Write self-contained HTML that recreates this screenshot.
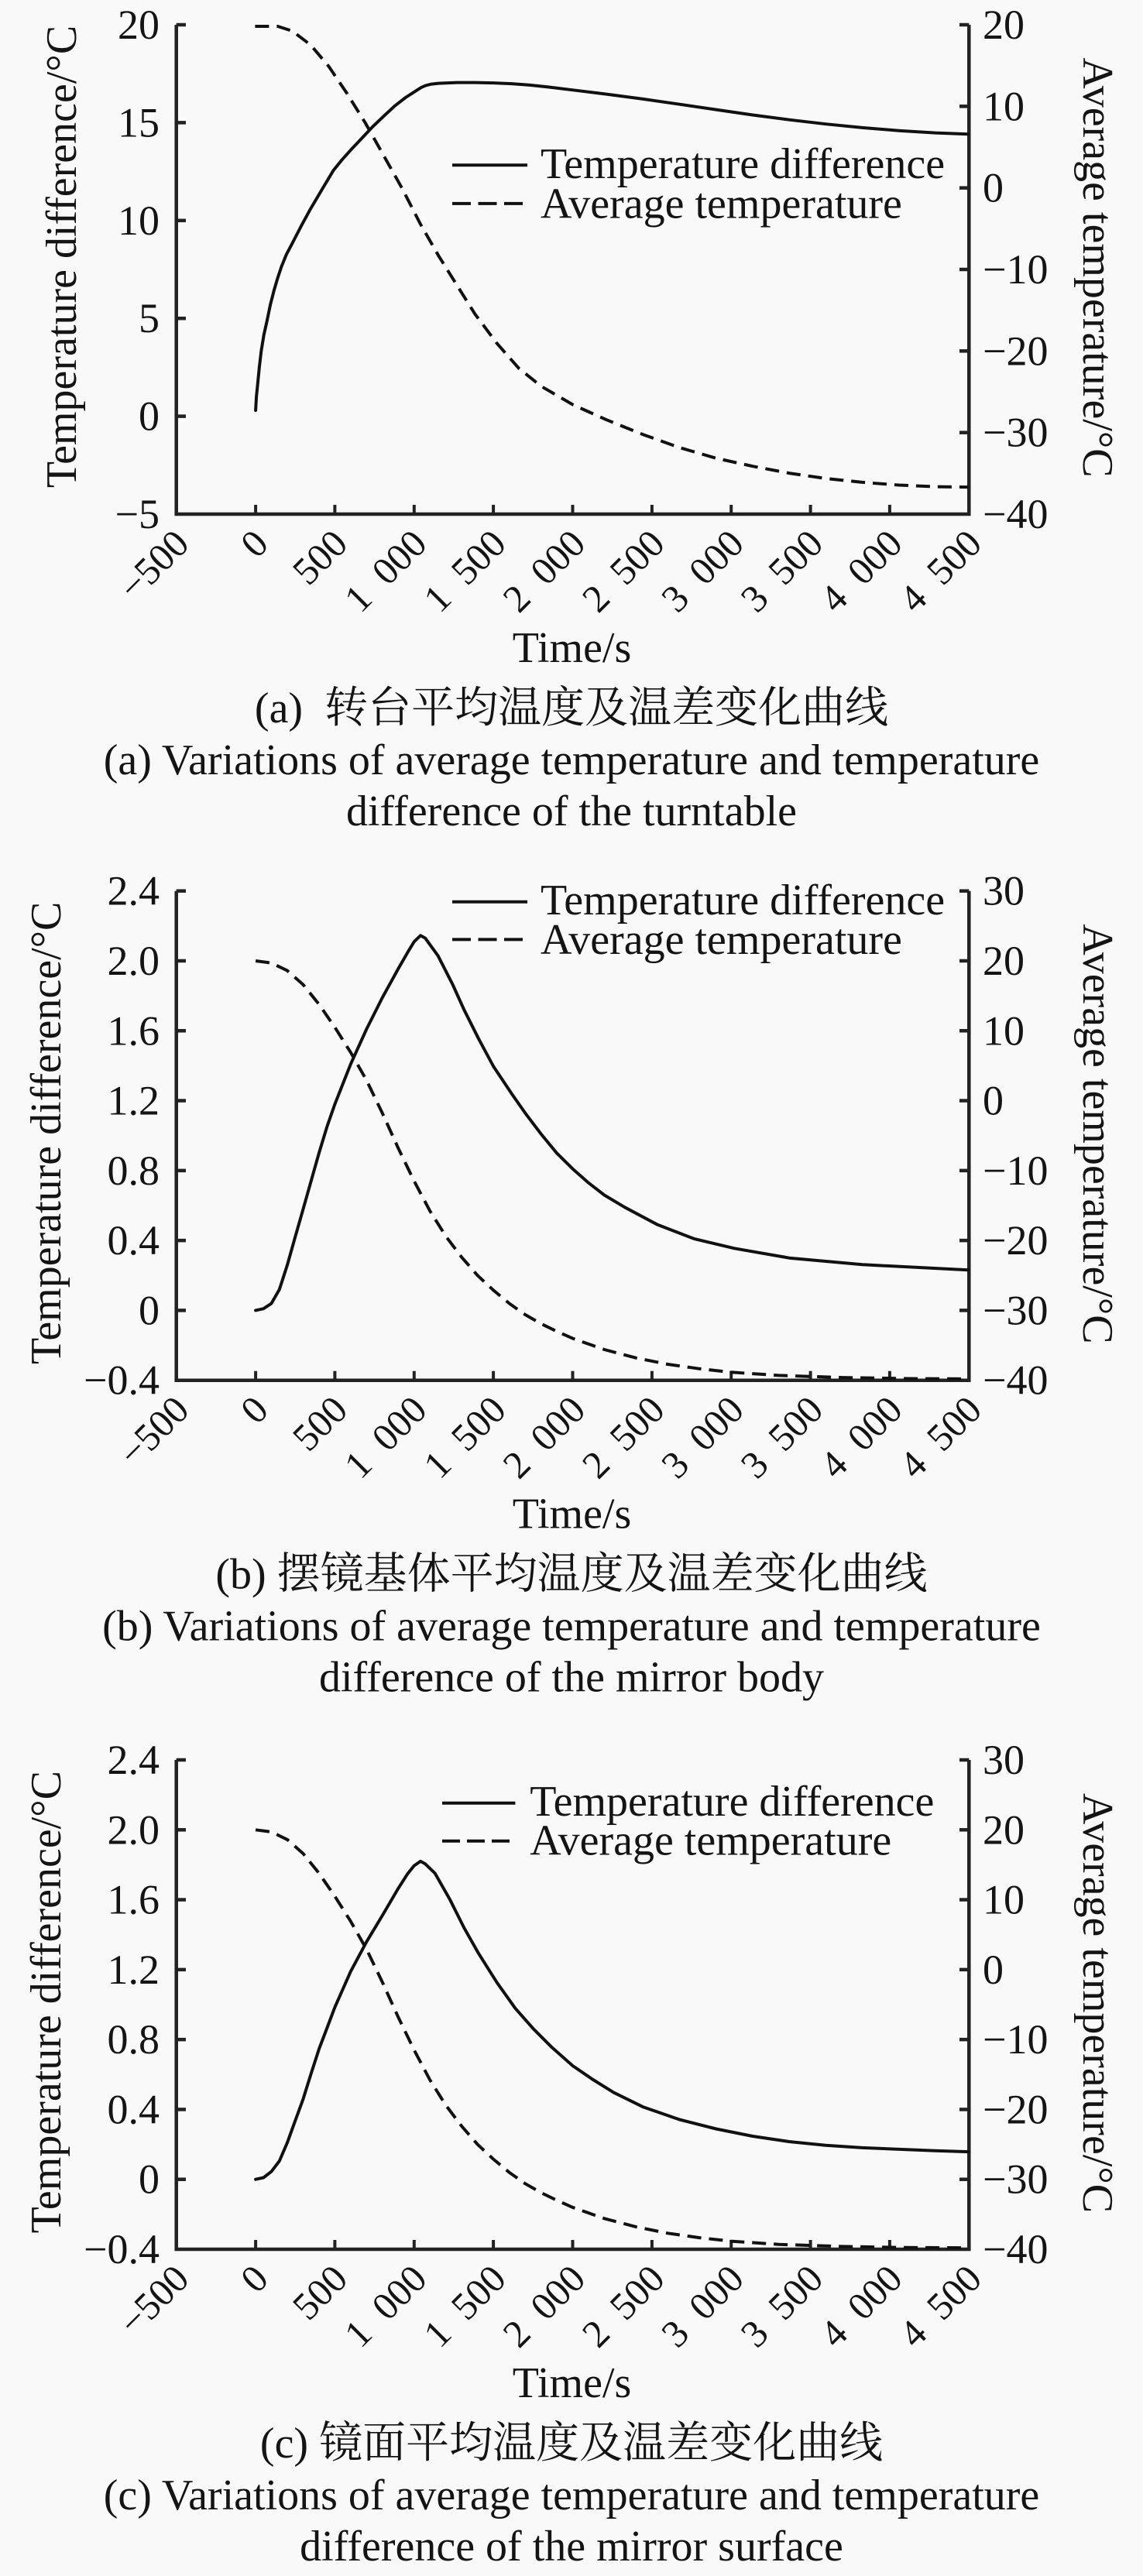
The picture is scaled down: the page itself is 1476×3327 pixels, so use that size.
<!DOCTYPE html>
<html>
<head>
<meta charset="utf-8">
<style>
  html,body{margin:0;padding:0;background:#f9f9f9;}
  svg{display:block;}
  text{font-family:"Liberation Serif","Noto Serif CJK SC",serif;fill:#141414;}
  .tk{font-size:54px;}
  .xt{font-size:50px;}
  .ti{font-size:56px;}
  .cj{font-size:56px;}
</style>
</head>
<body>
<svg width="1476" height="3327" viewBox="0 0 1476 3327" xmlns="http://www.w3.org/2000/svg">
<rect x="0" y="0" width="1476" height="3327" fill="#f9f9f9"/>

<!-- ================= CHART A ================= -->
<g transform="translate(0,32)">
  <path d="M227.7,0 V632 H1251.3 V0" fill="none" stroke="#222" stroke-width="4.5"/>
  <g stroke="#222" stroke-width="4.5">
    <line x1="227.7" y1="0" x2="240" y2="0"/>
    <line x1="227.7" y1="126.4" x2="240" y2="126.4"/>
    <line x1="227.7" y1="252.8" x2="240" y2="252.8"/>
    <line x1="227.7" y1="379.2" x2="240" y2="379.2"/>
    <line x1="227.7" y1="505.6" x2="240" y2="505.6"/>
    <line x1="1251.3" y1="0" x2="1239" y2="0"/>
    <line x1="1251.3" y1="105.33" x2="1239" y2="105.33"/>
    <line x1="1251.3" y1="210.67" x2="1239" y2="210.67"/>
    <line x1="1251.3" y1="316" x2="1239" y2="316"/>
    <line x1="1251.3" y1="421.33" x2="1239" y2="421.33"/>
    <line x1="1251.3" y1="526.67" x2="1239" y2="526.67"/>
  </g>
  <g stroke="#222" stroke-width="4">
    <line x1="330.1" y1="632" x2="330.1" y2="620"/>
    <line x1="432.4" y1="632" x2="432.4" y2="620"/>
    <line x1="534.8" y1="632" x2="534.8" y2="620"/>
    <line x1="637.1" y1="632" x2="637.1" y2="620"/>
    <line x1="739.5" y1="632" x2="739.5" y2="620"/>
    <line x1="841.9" y1="632" x2="841.9" y2="620"/>
    <line x1="944.2" y1="632" x2="944.2" y2="620"/>
    <line x1="1046.6" y1="632" x2="1046.6" y2="620"/>
    <line x1="1148.9" y1="632" x2="1148.9" y2="620"/>
  </g>
  <g class="tk" text-anchor="end">
    <text x="206" y="18">20</text>
    <text x="206" y="144.4">15</text>
    <text x="206" y="270.8">10</text>
    <text x="206" y="397.2">5</text>
    <text x="206" y="523.6">0</text>
    <text x="206" y="650">−5</text>
  </g>
  <g class="tk" text-anchor="start">
    <text x="1269" y="18">20</text>
    <text x="1269" y="123.33">10</text>
    <text x="1269" y="228.67">0</text>
    <text x="1269" y="334">−10</text>
    <text x="1269" y="439.33">−20</text>
    <text x="1269" y="544.67">−30</text>
    <text x="1269" y="650">−40</text>
  </g>
  <g class="xt" text-anchor="end">
    <text transform="translate(246.7,673) rotate(-45)">−500</text>
    <text transform="translate(349.1,673) rotate(-45)">0</text>
    <text transform="translate(451.4,673) rotate(-45)">500</text>
    <text transform="translate(553.8,673) rotate(-45)">1&#160;&#160;000</text>
    <text transform="translate(656.1,673) rotate(-45)">1&#160;&#160;500</text>
    <text transform="translate(758.5,673) rotate(-45)">2&#160;&#160;000</text>
    <text transform="translate(860.9,673) rotate(-45)">2&#160;&#160;500</text>
    <text transform="translate(963.2,673) rotate(-45)">3&#160;&#160;000</text>
    <text transform="translate(1065.6,673) rotate(-45)">3&#160;&#160;500</text>
    <text transform="translate(1167.9,673) rotate(-45)">4&#160;&#160;000</text>
    <text transform="translate(1270.3,673) rotate(-45)">4&#160;&#160;500</text>
  </g>
  <text class="ti" text-anchor="middle" transform="translate(98,299.5) rotate(-90)">Temperature difference/°C</text>
  <text class="ti" text-anchor="middle" transform="translate(1399,313.5) rotate(90)">Average temperature/°C</text>
  <line x1="584" y1="181.3" x2="681" y2="181.3" stroke="#111" stroke-width="4"/>
  <line x1="584" y1="230.9" x2="681" y2="230.9" stroke="#111" stroke-width="4" stroke-dasharray="24 9.5"/>
  <text class="ti" x="698" y="198">Temperature difference</text>
  <text class="ti" x="698" y="249.5">Average temperature</text>
  <text class="ti" x="738.5" y="823" text-anchor="middle">Time/s</text>
  <text class="cj" x="738" y="901" text-anchor="middle">(a)&#160; 转台平均温度及温差变化曲线</text>
  <text class="ti" x="738" y="968" text-anchor="middle">(a) Variations of average temperature and temperature</text>
  <text class="ti" x="738" y="1034" text-anchor="middle">difference of the turntable</text>
</g>
<polyline fill="none" stroke="#111" stroke-width="4" stroke-linejoin="round" stroke-linecap="round"
 points="330.1,530 331.1,512.3 332.8,495.4 335,473.1 337.4,452.9 340.7,432.7 344.6,415.3 349.1,393.5 354,374.5 358.7,358.6 363.4,344.5 370,328.3 377.6,313.9 389.4,291.1 401.1,269.6 416,244.4 430.4,220.3 441.6,206.4 452.9,193.8 467.2,178.6 481.4,163.5 495.5,150.1 509.6,136.9 523.7,126 538.1,116.7 544,112.9 549.7,110.4 557.3,108.6 566.3,107.6 590.1,106.6 613.6,106.6 637.1,107.1 660.7,108.1 684.2,109.9 707.9,112.4 740,116.3 783.2,121.6 830.4,127.9 877.6,134.7 924.8,141.6 972,148.5 1019.2,154.7 1066.3,160.2 1113.5,164.9 1160.7,168.7 1207.9,171.6 1250.4,173.2"/>
<polyline fill="none" stroke="#111" stroke-width="4" stroke-dasharray="18 10" stroke-linejoin="round"
 points="329.4,34 358.7,34 377.5,40.1 401.1,58 424.7,86 448.3,121 471.9,159 495.5,201 519.1,243 542.7,289 566.3,330.3 589.9,368.1 613.5,405.8 641.8,443.6 670.1,475.8 698.4,498.6 740,522.8 783.2,542.2 830.4,561.2 877.6,578.1 924.8,591.8 972,602.2 1019.2,611.1 1066.3,618 1113.5,622.9 1160.7,626.5 1207.9,628.6 1250.4,629.1"/>

<!-- ================= CHART B ================= -->
<g transform="translate(0,1150.7)">
  <path d="M227.7,0 V632 H1251.3 V0" fill="none" stroke="#222" stroke-width="4.5"/>
  <g stroke="#222" stroke-width="4.5">
    <line x1="227.7" y1="0" x2="240" y2="0"/>
    <line x1="227.7" y1="90.29" x2="240" y2="90.29"/>
    <line x1="227.7" y1="180.57" x2="240" y2="180.57"/>
    <line x1="227.7" y1="270.86" x2="240" y2="270.86"/>
    <line x1="227.7" y1="361.14" x2="240" y2="361.14"/>
    <line x1="227.7" y1="451.43" x2="240" y2="451.43"/>
    <line x1="227.7" y1="541.71" x2="240" y2="541.71"/>
    <line x1="1251.3" y1="0" x2="1239" y2="0"/>
    <line x1="1251.3" y1="90.29" x2="1239" y2="90.29"/>
    <line x1="1251.3" y1="180.57" x2="1239" y2="180.57"/>
    <line x1="1251.3" y1="270.86" x2="1239" y2="270.86"/>
    <line x1="1251.3" y1="361.14" x2="1239" y2="361.14"/>
    <line x1="1251.3" y1="451.43" x2="1239" y2="451.43"/>
    <line x1="1251.3" y1="541.71" x2="1239" y2="541.71"/>
  </g>
  <g stroke="#222" stroke-width="4">
    <line x1="330.1" y1="632" x2="330.1" y2="620"/>
    <line x1="432.4" y1="632" x2="432.4" y2="620"/>
    <line x1="534.8" y1="632" x2="534.8" y2="620"/>
    <line x1="637.1" y1="632" x2="637.1" y2="620"/>
    <line x1="739.5" y1="632" x2="739.5" y2="620"/>
    <line x1="841.9" y1="632" x2="841.9" y2="620"/>
    <line x1="944.2" y1="632" x2="944.2" y2="620"/>
    <line x1="1046.6" y1="632" x2="1046.6" y2="620"/>
    <line x1="1148.9" y1="632" x2="1148.9" y2="620"/>
  </g>
  <g class="tk" text-anchor="end">
    <text x="206" y="18">2.4</text>
    <text x="206" y="108.29">2.0</text>
    <text x="206" y="198.57">1.6</text>
    <text x="206" y="288.86">1.2</text>
    <text x="206" y="379.14">0.8</text>
    <text x="206" y="469.43">0.4</text>
    <text x="206" y="559.71">0</text>
    <text x="206" y="650">−0.4</text>
  </g>
  <g class="tk" text-anchor="start">
    <text x="1269" y="18">30</text>
    <text x="1269" y="108.29">20</text>
    <text x="1269" y="198.57">10</text>
    <text x="1269" y="288.86">0</text>
    <text x="1269" y="379.14">−10</text>
    <text x="1269" y="469.43">−20</text>
    <text x="1269" y="559.71">−30</text>
    <text x="1269" y="650">−40</text>
  </g>
  <g class="xt" text-anchor="end">
    <text transform="translate(246.7,673) rotate(-45)">−500</text>
    <text transform="translate(349.1,673) rotate(-45)">0</text>
    <text transform="translate(451.4,673) rotate(-45)">500</text>
    <text transform="translate(553.8,673) rotate(-45)">1&#160;&#160;000</text>
    <text transform="translate(656.1,673) rotate(-45)">1&#160;&#160;500</text>
    <text transform="translate(758.5,673) rotate(-45)">2&#160;&#160;000</text>
    <text transform="translate(860.9,673) rotate(-45)">2&#160;&#160;500</text>
    <text transform="translate(963.2,673) rotate(-45)">3&#160;&#160;000</text>
    <text transform="translate(1065.6,673) rotate(-45)">3&#160;&#160;500</text>
    <text transform="translate(1167.9,673) rotate(-45)">4&#160;&#160;000</text>
    <text transform="translate(1270.3,673) rotate(-45)">4&#160;&#160;500</text>
  </g>
  <text class="ti" text-anchor="middle" transform="translate(78,312.6) rotate(-90)">Temperature difference/°C</text>
  <text class="ti" text-anchor="middle" transform="translate(1399,313.8) rotate(90)">Average temperature/°C</text>
  <line x1="584" y1="14.1" x2="681" y2="14.1" stroke="#111" stroke-width="4"/>
  <line x1="584" y1="62.7" x2="681" y2="62.7" stroke="#111" stroke-width="4" stroke-dasharray="24 9.5"/>
  <text class="ti" x="698" y="30.5">Temperature difference</text>
  <text class="ti" x="698" y="81.5">Average temperature</text>
  <text class="ti" x="738.5" y="823" text-anchor="middle">Time/s</text>
  <text class="cj" x="738" y="901" text-anchor="middle">(b) 摆镜基体平均温度及温差变化曲线</text>
  <text class="ti" x="738" y="968" text-anchor="middle">(b) Variations of average temperature and temperature</text>
  <text class="ti" x="738" y="1034" text-anchor="middle">difference of the mirror body</text>
</g>
<polyline fill="none" stroke="#111" stroke-width="4" stroke-linejoin="round" stroke-linecap="round"
 points="330.1,1692.4 340.3,1690.2 350.5,1683.4 360.8,1665.4 371,1633.8 381.2,1597.6 391.5,1561.5 401.7,1525.4 411.9,1489.3 422.2,1455.4 432.4,1426.1 452.9,1374.2 473.4,1329 493.8,1288.4 514.3,1251.1 526.6,1229.7 534.8,1216.2 543,1208.3 549.1,1211.6 557.3,1222.9 565.5,1234.2 584.3,1271 599.3,1304.2 618.1,1341.7 637.1,1377.1 660.7,1412.5 678.1,1437.4 698.6,1464.5 719,1489.3 739.5,1509.6 760,1527.7 780.4,1543.5 806.9,1559.3 849.2,1581.8 896.3,1599.9 948.3,1612.3 1019.2,1624.7 1113.5,1633.3 1250.5,1640.3"/>
<polyline fill="none" stroke="#111" stroke-width="4" stroke-dasharray="18 10" stroke-linejoin="round"
 points="330.1,1241 350.5,1243.7 371,1253.6 391.5,1271.7 411.9,1297 432.4,1326.8 452.9,1359.3 473.4,1395.4 493.8,1437.8 514.3,1483 534.8,1525.4 555.3,1564.2 575.7,1596.7 596.2,1623.8 616.7,1647.3 637.1,1666.3 657.6,1683.4 678.1,1697.9 698.6,1709.6 719,1719.5 739.5,1728.6 780.4,1743 821.4,1753.8 862.3,1762 903.3,1767.8 944.2,1772.3 1005.6,1776.4 1087.5,1779.1 1169.4,1780.5 1251.3,1780.9"/>

<!-- ================= CHART C ================= -->
<g transform="translate(0,2273)">
  <path d="M227.7,0 V632 H1251.3 V0" fill="none" stroke="#222" stroke-width="4.5"/>
  <g stroke="#222" stroke-width="4.5">
    <line x1="227.7" y1="0" x2="240" y2="0"/>
    <line x1="227.7" y1="90.29" x2="240" y2="90.29"/>
    <line x1="227.7" y1="180.57" x2="240" y2="180.57"/>
    <line x1="227.7" y1="270.86" x2="240" y2="270.86"/>
    <line x1="227.7" y1="361.14" x2="240" y2="361.14"/>
    <line x1="227.7" y1="451.43" x2="240" y2="451.43"/>
    <line x1="227.7" y1="541.71" x2="240" y2="541.71"/>
    <line x1="1251.3" y1="0" x2="1239" y2="0"/>
    <line x1="1251.3" y1="90.29" x2="1239" y2="90.29"/>
    <line x1="1251.3" y1="180.57" x2="1239" y2="180.57"/>
    <line x1="1251.3" y1="270.86" x2="1239" y2="270.86"/>
    <line x1="1251.3" y1="361.14" x2="1239" y2="361.14"/>
    <line x1="1251.3" y1="451.43" x2="1239" y2="451.43"/>
    <line x1="1251.3" y1="541.71" x2="1239" y2="541.71"/>
  </g>
  <g stroke="#222" stroke-width="4">
    <line x1="330.1" y1="632" x2="330.1" y2="620"/>
    <line x1="432.4" y1="632" x2="432.4" y2="620"/>
    <line x1="534.8" y1="632" x2="534.8" y2="620"/>
    <line x1="637.1" y1="632" x2="637.1" y2="620"/>
    <line x1="739.5" y1="632" x2="739.5" y2="620"/>
    <line x1="841.9" y1="632" x2="841.9" y2="620"/>
    <line x1="944.2" y1="632" x2="944.2" y2="620"/>
    <line x1="1046.6" y1="632" x2="1046.6" y2="620"/>
    <line x1="1148.9" y1="632" x2="1148.9" y2="620"/>
  </g>
  <g class="tk" text-anchor="end">
    <text x="206" y="18">2.4</text>
    <text x="206" y="108.29">2.0</text>
    <text x="206" y="198.57">1.6</text>
    <text x="206" y="288.86">1.2</text>
    <text x="206" y="379.14">0.8</text>
    <text x="206" y="469.43">0.4</text>
    <text x="206" y="559.71">0</text>
    <text x="206" y="650">−0.4</text>
  </g>
  <g class="tk" text-anchor="start">
    <text x="1269" y="18">30</text>
    <text x="1269" y="108.29">20</text>
    <text x="1269" y="198.57">10</text>
    <text x="1269" y="288.86">0</text>
    <text x="1269" y="379.14">−10</text>
    <text x="1269" y="469.43">−20</text>
    <text x="1269" y="559.71">−30</text>
    <text x="1269" y="650">−40</text>
  </g>
  <g class="xt" text-anchor="end">
    <text transform="translate(246.7,673) rotate(-45)">−500</text>
    <text transform="translate(349.1,673) rotate(-45)">0</text>
    <text transform="translate(451.4,673) rotate(-45)">500</text>
    <text transform="translate(553.8,673) rotate(-45)">1&#160;&#160;000</text>
    <text transform="translate(656.1,673) rotate(-45)">1&#160;&#160;500</text>
    <text transform="translate(758.5,673) rotate(-45)">2&#160;&#160;000</text>
    <text transform="translate(860.9,673) rotate(-45)">2&#160;&#160;500</text>
    <text transform="translate(963.2,673) rotate(-45)">3&#160;&#160;000</text>
    <text transform="translate(1065.6,673) rotate(-45)">3&#160;&#160;500</text>
    <text transform="translate(1167.9,673) rotate(-45)">4&#160;&#160;000</text>
    <text transform="translate(1270.3,673) rotate(-45)">4&#160;&#160;500</text>
  </g>
  <text class="ti" text-anchor="middle" transform="translate(78,312.7) rotate(-90)">Temperature difference/°C</text>
  <text class="ti" text-anchor="middle" transform="translate(1399,314) rotate(90)">Average temperature/°C</text>
  <line x1="571" y1="55.7" x2="665.4" y2="55.7" stroke="#111" stroke-width="4"/>
  <line x1="571" y1="104.8" x2="665.4" y2="104.8" stroke="#111" stroke-width="4" stroke-dasharray="23 9"/>
  <text class="ti" x="684.3" y="72">Temperature difference</text>
  <text class="ti" x="684.3" y="122.5">Average temperature</text>
  <text class="ti" x="738.5" y="823" text-anchor="middle">Time/s</text>
  <text class="cj" x="738" y="901" text-anchor="middle">(c) 镜面平均温度及温差变化曲线</text>
  <text class="ti" x="738" y="968" text-anchor="middle">(c) Variations of average temperature and temperature</text>
  <text class="ti" x="738" y="1034" text-anchor="middle">difference of the mirror surface</text>
</g>
<polyline fill="none" stroke="#111" stroke-width="4" stroke-linejoin="round" stroke-linecap="round"
 points="330.1,2814.7 340.3,2812.5 350.5,2804.6 360.8,2791 371,2767.3 381.2,2739.1 391.5,2710.9 401.7,2678.2 411.9,2646.6 422.2,2619.5 432.4,2592.4 452.9,2546.1 473.4,2507.8 493.8,2473.9 514.3,2438.9 526.6,2419.7 534.8,2409.6 543,2403.9 549.1,2407.3 561.6,2419.3 580.4,2452.2 599.3,2489.9 618.1,2523.1 641.9,2560.8 665.4,2593.8 689,2620.6 712.7,2644.3 739.5,2668 764.3,2685 792.5,2702.6 830.2,2721.1 877.5,2737.5 924.6,2749.5 971.9,2759 1019,2766 1066.2,2770.7 1113.5,2773.9 1207.9,2777.7 1251.3,2779.1"/>
<polyline fill="none" stroke="#111" stroke-width="4" stroke-dasharray="18 10" stroke-linejoin="round"
 points="330.1,2363.3 350.5,2366 371,2375.9 391.5,2394 411.9,2419.3 432.4,2449.1 452.9,2481.6 473.4,2517.7 493.8,2560.1 514.3,2605.3 534.8,2647.7 555.3,2686.5 575.7,2719 596.2,2746.1 616.7,2769.6 637.1,2788.6 657.6,2805.7 678.1,2820.2 698.6,2831.9 719,2841.8 739.5,2850.9 780.4,2865.3 821.4,2876.1 862.3,2884.3 903.3,2890.1 944.2,2894.6 1005.6,2898.7 1087.5,2901.4 1169.4,2902.8 1251.3,2903.2"/>
</svg>
</body>
</html>
